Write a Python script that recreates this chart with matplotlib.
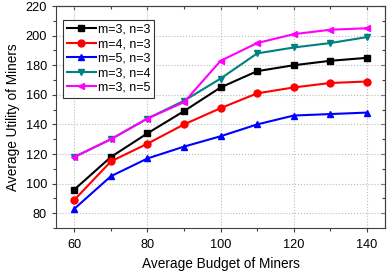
import matplotlib
matplotlib.use("Agg")
import matplotlib.pyplot as plt
from matplotlib.ticker import MultipleLocator

plt.rcParams['font.family'] = ['Liberation Sans', 'DejaVu Sans']

budget = [60, 70, 80, 90, 100, 110, 120, 130, 140]
labels = ["m=3, n=3", "m=4, n=3", "m=5, n=3", "m=3, n=4", "m=3, n=5"]
m3n3 = [96, 118, 134, 149, 165, 176, 180, 183, 185]
m4n3 = [89, 115, 127, 140, 151, 161, 165, 168, 169]
m5n3 = [83, 105, 117, 125, 132, 140, 146, 147, 148]
m3n4 = [118, 130, 144, 156, 171, 188, 192, 195, 199]
m3n5 = [118, 130, 144, 155, 183, 195, 201, 204, 205]

series = [m3n3, m4n3, m5n3, m3n4, m3n5]
colors = ["black", "#ff0000", "#0000ff", "#008080", "#ff00ff"]
markers = ["s", "o", "^", "v", "<"]

fig = plt.figure(figsize=(3.87, 2.76), dpi=100)
ax = fig.add_axes([0.145, 0.174, 0.850, 0.804])

for vals, lab, c, mk in zip(series, labels, colors, markers):
    ax.plot(budget, vals, color=c, marker=mk, markersize=5, linewidth=1.5, label=lab)

ax.set_xlim(55, 145)
ax.set_ylim(70, 220)
ax.xaxis.set_major_locator(MultipleLocator(20))
ax.xaxis.set_minor_locator(MultipleLocator(10))
ax.yaxis.set_major_locator(MultipleLocator(20))
ax.yaxis.set_minor_locator(MultipleLocator(10))
ax.grid(True, which='major', linestyle=':', color='#bbbbbb', linewidth=0.8)
ax.tick_params(which='both', labelsize=9.2, width=0.8, direction='out',
               top=False, right=False, color='#404040')
ax.tick_params(which='major', length=3)
ax.tick_params(which='minor', length=2)
ax.tick_params(axis='x', pad=5)
# inward ticks on top and right
ax2 = ax.secondary_xaxis('top')
ax2.xaxis.set_major_locator(MultipleLocator(20))
ax2.xaxis.set_minor_locator(MultipleLocator(10))
ax2.tick_params(which='both', direction='in', labeltop=False, width=0.8, color='#404040')
ax2.tick_params(which='major', length=3)
ax2.tick_params(which='minor', length=2)
ax3 = ax.secondary_yaxis('right')
ax3.yaxis.set_major_locator(MultipleLocator(20))
ax3.yaxis.set_minor_locator(MultipleLocator(10))
ax3.tick_params(which='both', direction='in', labelright=False, width=0.8, color='#404040')
ax3.tick_params(which='major', length=3)
ax3.tick_params(which='minor', length=2)
for a in (ax, ax2, ax3):
    for s in a.spines.values():
        s.set_color('#404040')
        s.set_linewidth(0.8)

ax.set_xlabel("Average Budget of Miners", fontsize=9.8, labelpad=4)
ax.set_ylabel("Average Utility of Miners", fontsize=9.8, labelpad=4)

leg = ax.legend(loc='upper left', fontsize=9, frameon=True, fancybox=False,
                edgecolor='black', handlelength=2.3, borderpad=0.3,
                labelspacing=0.2, handletextpad=0.2, borderaxespad=0,
                bbox_to_anchor=(0.021, 0.937))
leg.get_frame().set_linewidth(0.8)

fig.savefig("out.png", dpi=100)
